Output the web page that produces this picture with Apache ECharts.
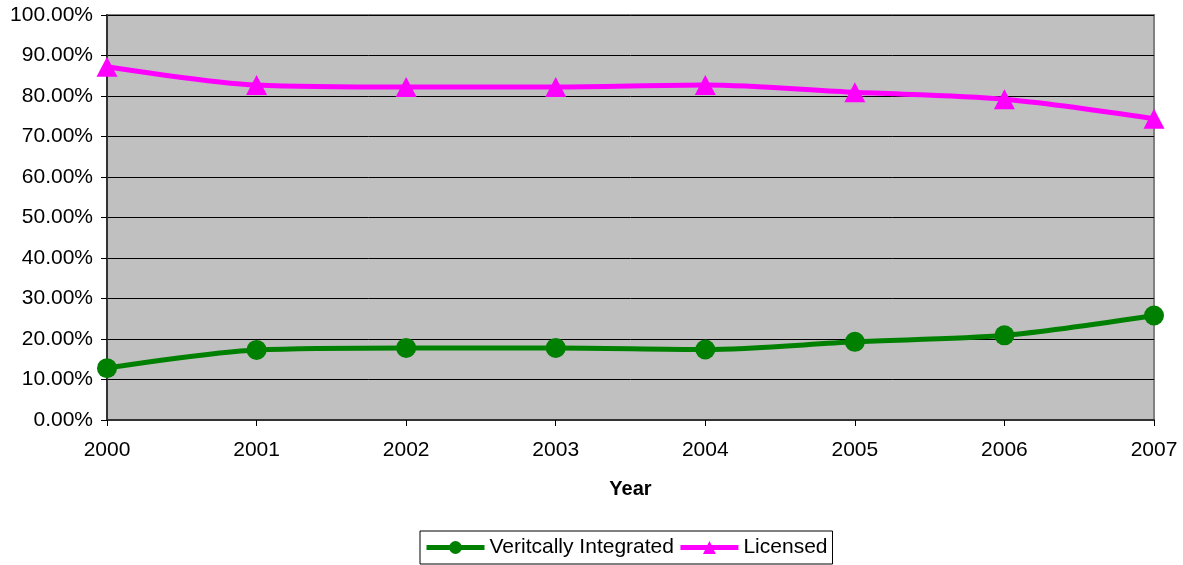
<!DOCTYPE html>
<html>
<head>
<meta charset="UTF-8">
<title>Vertically Integrated vs Licensed</title>
<script src="https://cdn.jsdelivr.net/npm/echarts@6/dist/echarts.min.js"></script>
<style>
  body { margin: 0; background: #fff; }
  #chart { width: 1183px; height: 565px; }
</style>
</head>
<body>
<div id="chart"></div>
<script>
var years = ['2000', '2001', '2002', '2003', '2004', '2005', '2006', '2007'];
var vertical = [12.8, 17.3, 17.8, 17.8, 17.4, 19.3, 20.9, 25.8];
var licensed = [87.2, 82.7, 82.2, 82.2, 82.7, 80.9, 79.2, 74.4];

var chart = echarts.init(document.getElementById('chart'));
var font = 'Liberation Sans, Arial, sans-serif';

chart.setOption({
  animation: false,
  textStyle: { fontFamily: font },
  grid: {
    left: 107, right: 29, top: 15, bottom: 145,
    show: true,
    backgroundColor: '#c0c0c0',
    borderColor: '#808080',
    borderWidth: 2
  },
  legend: {
    bottom: 1,
    left: 420,
    padding: [6, 5, 6, 4],
    borderColor: '#000',
    borderWidth: 1,
    itemWidth: 58,
    itemHeight: 16,
    itemGap: 4,
    textStyle: { fontSize: 21, color: '#000', fontFamily: font },
    data: [
      { name: 'Veritcally Integrated', lineStyle: { width: 5 } },
      { name: 'Licensed', lineStyle: { width: 5 } }
    ]
  },
  xAxis: {
    type: 'category',
    data: years,
    boundaryGap: false,
    name: 'Year',
    nameLocation: 'middle',
    nameGap: 59,
    nameTextStyle: { fontWeight: 'bold', fontSize: 20, color: '#000' },
    axisLine: { lineStyle: { color: '#333', width: 2 } },
    axisTick: { show: true, length: 6, lineStyle: { color: '#000' } },
    axisLabel: { fontSize: 21, color: '#000', margin: 20 },
    splitLine: { show: false }
  },
  yAxis: {
    type: 'value',
    min: 0,
    max: 100,
    interval: 10,
    axisLine: { show: true, lineStyle: { color: '#333', width: 2 } },
    axisTick: { show: true, length: 6, lineStyle: { color: '#000' } },
    axisLabel: {
      fontSize: 21, color: '#000', margin: 14,
      formatter: function (v) { return v.toFixed(2) + '%'; }
    },
    splitLine: { show: true, lineStyle: { color: '#000', width: 1 } }
  },
  series: [
    {
      name: 'Veritcally Integrated',
      type: 'line',
      data: vertical,
      smooth: 0.3,
      symbol: 'circle',
      symbolSize: 20,
      itemStyle: { color: '#008000' },
      lineStyle: { color: '#008000', width: 5 }
    },
    {
      name: 'Licensed',
      type: 'line',
      data: licensed,
      smooth: 0.3,
      symbol: 'triangle',
      symbolSize: [21, 20],
      itemStyle: { color: '#ff00ff' },
      lineStyle: { color: '#ff00ff', width: 5 }
    }
  ]
});
</script>
</body>
</html>
